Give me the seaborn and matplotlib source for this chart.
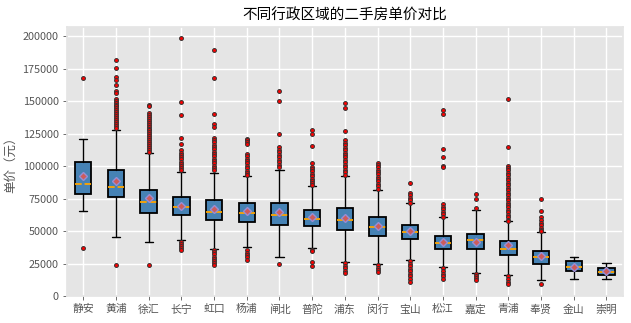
import matplotlib
matplotlib.use("Agg")
import matplotlib.pyplot as plt
import seaborn as sns

# 各行政区单价分布的箱线统计量（元）
districts = ["静安", "黄浦", "徐汇", "长宁", "虹口", "杨浦", "闸北", "普陀", "浦东",
             "闵行", "宝山", "松江", "嘉定", "青浦", "奉贤", "金山", "崇明"]
whisker_low = [65100, 45200, 41300, 42800, 35900, 37400, 29800, 36700, 25900,
               24400, 27400, 22100, 17400, 15900, 12100, 12800, 12800]
q1 = [78200, 75900, 63600, 62100, 58200, 57200, 54400, 53600, 50500,
      45900, 43600, 35900, 35900, 31300, 24400, 19000, 15900]
median = [85900, 83600, 72100, 68200, 64400, 63600, 62100, 59500, 58200,
          52800, 49000, 40500, 42800, 35900, 29800, 22100, 18200]
q3 = [103300, 96700, 82000, 75900, 73600, 71300, 71300, 65900, 67400,
      60500, 54400, 45900, 47400, 42000, 34400, 26700, 21300]
whisker_high = [121300, 128200, 110500, 95600, 94900, 92600, 97400, 84400, 92800,
                81800, 71300, 60500, 65900, 57400, 49000, 29800, 25100]
mean = [92800, 88200, 75400, 69700, 66900, 65100, 64400, 60500, 59700,
        53600, 49800, 41300, 41500, 38900, 30500, 22100, 19000]

# 异常值
fliers = [
    [168200, 36700],
    [182100, 176000, 168700, 166200, 162800, 157700, 156700, 152100, 150500, 149000,
     147500, 146000, 144500, 143000, 141500, 140000, 138500, 137000, 135500, 134000,
     132500, 131000, 129500, 23600],
    [147200, 146000, 141000, 139500, 138000, 136500, 135000, 133500, 132000, 130500,
     129000, 127500, 126000, 124500, 123000, 121500, 120000, 118500, 117000, 115500,
     114000, 112500, 111200, 23600],
    [199000, 149700, 139800, 122000, 117400, 112300, 110500, 108700, 107000, 105200,
     103500, 101800, 100000, 98300, 96800, 41500, 40000, 38500, 37000, 35400],
    [189200, 168200, 140500, 132800, 129800, 122000, 120200, 118400, 116600, 114800,
     113000, 111200, 109400, 107600, 105800, 104000, 102200, 100400, 98600, 97000,
     35400, 33700, 32000, 30300, 28600, 26900, 25200, 23600],
    [121300, 120000, 118700, 117400, 109700, 107800, 105900, 104000, 102100, 100200,
     98300, 96400, 94500, 93000, 35400, 33500, 31600, 29700, 27700],
    [157700, 150000, 125100, 114400, 112500, 110600, 108700, 106800, 104900, 103000,
     101200, 99500, 24400],
    [128200, 124400, 115900, 102800, 99500, 97700, 95900, 94100, 92300, 90500,
     88700, 86900, 85400, 35400, 34500, 25900, 22800],
    [148700, 145100, 126900, 120000, 118100, 116200, 114300, 112400, 110500, 108600,
     106700, 104800, 102900, 101000, 99100, 97200, 95300, 93400, 25100, 23200,
     21300, 19400, 17400],
    [102600, 100800, 99000, 97200, 95400, 93600, 91800, 90000, 88200, 86400,
     84600, 82800, 23600, 21800, 20000, 18200],
    [86700, 79700, 77700, 75700, 73700, 71800, 26700, 24800, 22900, 21000,
     19100, 17200, 15300, 13400, 11000],
    [143600, 140500, 113600, 107400, 99800, 99000, 70500, 68600, 66700, 64800,
     62900, 61000, 21300, 19300, 17300, 15300, 13300],
    [78500, 75100, 67400, 16700, 15200, 13700, 12100],
    [152100, 114400, 100500, 98600, 96700, 94800, 92900, 91000, 89100, 87200,
     85300, 83400, 81500, 79600, 77700, 75800, 73900, 72000, 70100, 68200,
     66300, 64400, 62500, 60600, 58700, 57400, 15100, 13100, 11100, 9000],
    [74400, 65100, 60500, 58500, 56500, 54500, 52500, 50500, 49800, 9000],
    [],
    [],
]

sns.set_theme(style="darkgrid", rc={
    "axes.facecolor": "#E5E5E5",
    "figure.facecolor": "white",
    "grid.color": "white",
    "grid.linewidth": 1.0,
    "axes.edgecolor": "#E5E5E5",
    "xtick.color": "#555555",
    "ytick.color": "#555555",
    "xtick.bottom": True,
    "ytick.left": True,
    "xtick.major.size": 3,
    "ytick.major.size": 3,
    "xtick.major.width": 0.6,
    "ytick.major.width": 0.6,
})
plt.rcParams["font.family"] = ["Noto Sans CJK SC", "DejaVu Sans"]
plt.rcParams["axes.unicode_minus"] = False

stats = []
for i, name in enumerate(districts):
    stats.append({
        "label": name,
        "whislo": whisker_low[i],
        "q1": q1[i],
        "med": median[i],
        "q3": q3[i],
        "whishi": whisker_high[i],
        "mean": mean[i],
        "fliers": fliers[i],
    })

fig = plt.figure(figsize=(6.31, 3.23), dpi=100)
ax = fig.add_axes([0.106, 0.0836, 0.881, 0.834])

ax.bxp(
    stats,
    showmeans=True,
    patch_artist=True,
    widths=0.5,
    boxprops={"facecolor": "steelblue", "edgecolor": "black", "linewidth": 1.3},
    whiskerprops={"color": "black", "linewidth": 1.0},
    capprops={"color": "black", "linewidth": 1.0},
    medianprops={"linestyle": "--", "color": "orange", "linewidth": 1.3},
    meanprops={"marker": "D", "markerfacecolor": "indianred",
               "markeredgecolor": "#988ED5", "markersize": 4.2},
    flierprops={"marker": "o", "markerfacecolor": "red",
                "markeredgecolor": "#333333", "markersize": 2.8,
                "markeredgewidth": 0.7},
)

ax.set_ylim(0, 207500)
ax.set_xlim(0.5, len(districts) + 0.5)
ax.set_yticks([0, 25000, 50000, 75000, 100000, 125000, 150000, 175000, 200000])
ax.tick_params(axis="both", labelsize=7.8, pad=3)
ax.set_ylabel("单价（元）", fontsize=9, color="#555555")
ax.set_title("不同行政区域的二手房单价对比", fontsize=10.5, color="black", pad=5)
ax.grid(True, color="white", linewidth=1.0)
ax.set_axisbelow(True)

fig.savefig("out.png", dpi=100)
